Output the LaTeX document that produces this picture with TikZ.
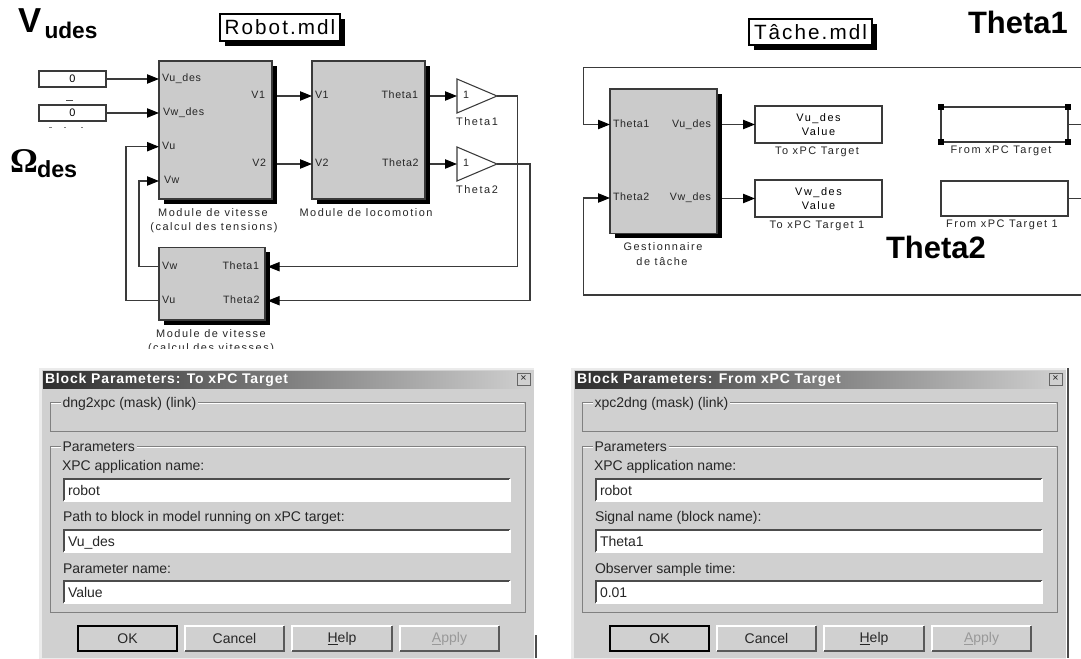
\documentclass[tikz,border=0pt]{standalone}
\usepackage{fontspec}
\setmainfont{Liberation Sans}
\newfontfamily\portf[LetterSpace=6]{Liberation Sans}
\newfontfamily\namef[LetterSpace=14]{Liberation Sans}
\newfontfamily\mdlf[LetterSpace=10]{Liberation Sans}
\newfontfamily\titlef[LetterSpace=6]{Liberation Sans}
\newfontfamily\omegaf{Liberation Serif}
\usetikzlibrary{arrows.meta}
\definecolor{blockgray}{HTML}{CBCBCB}
\definecolor{dlggray}{HTML}{D0D0D0}
\definecolor{wirec}{HTML}{3A3A3A}
\tikzset{
  box/.style={draw=wirec,line width=0.8pt,inner sep=0pt,outer sep=0pt,align=center,
    font=\namef\fontsize{8.2}{10.9}\selectfont},
  grayblock/.style={box,fill=blockgray},
  whiteblock/.style={box,fill=white},
  wire/.style={draw=wirec,line width=0.8pt},
  arrowwire/.style={wire,-{Triangle[length=9pt,width=7pt,black]}},
  fromshadow/.style={shorten <=3.75pt},
  intoshadow/.style={shorten >=2pt},
  port/.style={inner sep=0pt,outer sep=0pt,font=\portf\fontsize{8}{9}\selectfont,text height=5.5pt,text depth=1.5pt,text=black!85},
  namelabel/.style={inner sep=0pt,outer sep=0pt,font=\namef\fontsize{8.2}{9}\selectfont,text height=5.5pt,text depth=1.5pt,text=black!85},
  mdl/.style={box,fill=white,draw=black,font=\mdlf\fontsize{15.5}{17}\selectfont},
  bigbold/.style={inner sep=0pt,outer sep=0pt,font=\bfseries\fontsize{23.2}{24}\selectfont},
  dlgtext/.style={inner sep=0pt,outer sep=0pt,anchor=west,yshift=-1.5pt,font=\fontsize{10.5}{12}\selectfont,text height=7.5pt,text depth=2pt,text=black!85},
  edit/.style={inner sep=0pt,outer sep=0pt,fill=white},
  btn/.style={inner sep=0pt,outer sep=0pt,fill=dlggray,font=\fontsize{10.5}{12}\selectfont,text=black!85},
  handle/.style={fill=black,inner sep=0pt,outer sep=0pt,minimum size=4.2pt},
}
% optional style, name, x1, y1, x2, y2, text
\newcommand\bx[7][]{\node[#1,anchor=north west,minimum width={(#5-#3)*0.75pt},minimum height={(#6-#4)*0.75pt}] (#2) at (#3,#4) {#7};}
\newcommand\shad[4]{\fill[black] (#1+5,#2+5) rectangle (#3+5,#4+5);}
\newcommand\gainshape[3]{\draw[wire,fill=white] (#1,#2-17) -- (#1+40,#2) -- (#1,#2+17) -- cycle;
  \coordinate (#3in) at (#1,#2); \coordinate (#3out) at (#1+40,#2);
  \node[port,anchor=west] (#3one) at (#1+6,#2) {1};}
\newcommand\editbox[3]{%
  \bx[edit]{#1}{64}{#2}{510}{#3}{}
  \draw[black!70,line width=1.2pt] (64,#3) -- (64,#2) -- (510,#2);
  \draw[white,line width=0.8pt] (64,#3) -- (510,#3) -- (510,#2);}
\newcommand\button[5][black!65]{%
  \bx[btn]{#2}{#3}{626}{#4}{651}{#5}
  \draw[white,line width=1pt] (#3,651) -- (#3,626) -- (#4,626);
  \draw[#1,line width=1.2pt] (#3,651) -- (#4,651) -- (#4,626);}
\newcommand\groupframe[4]{\draw[black!50,line width=0.6pt] (50,#1) rectangle (525,#2);
  \draw[white,line width=0.4pt] (51,#1+1.2) -- (524,#1+1.2);
  \node[dlgtext,fill=dlggray,inner xsep=1.5pt] (#3) at (60.5,#1) {#4};}
% title, group, l1, v1, l2, v2, l3, v3
\newcommand\dlg[8]{%
  \fill[black!8] (39,368) rectangle (534,659);
  \fill[dlggray] (42,370) rectangle (534,658);
  \node[inner sep=0pt,outer sep=0pt,anchor=north west,minimum width={488*0.75pt},minimum height={17*0.75pt},left color=black!82,right color=dlggray] (bar) at (43,371) {};
  \node[inner sep=0pt,outer sep=0pt,anchor=west,text=white,font=\titlef\bfseries\fontsize{10.5}{12}\selectfont] (title) at (45,380) {#1};
  \bx[btn,draw=black!60,line width=0.5pt,font=\fontsize{8}{8}\selectfont]{close}{517}{373}{530}{385}{×}
  \groupframe{402}{431}{gone}{#2}
  \groupframe{446}{612}{gtwo}{Parameters}
  \node[dlgtext] (la) at (62,465) {#3};
  \editbox{ea}{479}{501}
  \node[dlgtext] (va) at (68,490) {#4};
  \node[dlgtext] (lb) at (63,516) {#5};
  \editbox{eb}{530}{552}
  \node[dlgtext] (vb) at (68,541) {#6};
  \node[dlgtext] (lc) at (63,568) {#7};
  \editbox{ec}{581}{603}
  \node[dlgtext] (vc) at (68,592) {#8};
  \button[black]{ok}{78}{177}{OK}{}
  \draw[black,line width=0.9pt] (78,626) rectangle (177,651);
  \button{cancel}{185}{284}{Cancel}{}
  \button{help}{292}{392}{\underline{H}elp}{}
  \button{apply}{400}{499}{\textcolor{black!40}{\underline{A}pply}}{}
}
\begin{document}
\begin{tikzpicture}[x=0.75pt,y=-0.75pt]
\useasboundingbox (0,0) rectangle (1081,659);
\fill[white] (0,0) rectangle (1081,659);

% ---- big annotations
\node[bigbold,anchor=base west,font=\bfseries\fontsize{26}{28}\selectfont] (vu) at (18,33) {V};
\node[bigbold,anchor=base west,font=\bfseries\fontsize{17}{18}\selectfont] (vus) at (44.5,39) {udes};
\node[bigbold,anchor=base west,font=\omegaf\bfseries\fontsize{26}{28}\selectfont] (om) at (10,173) {Ω};
\node[bigbold,anchor=base west,font=\bfseries\fontsize{17.5}{18}\selectfont] (oms) at (37,178) {des};
\node[bigbold,anchor=base west] (th1) at (968,34) {Theta1};
\node[bigbold,anchor=base west] (th2) at (886,259) {Theta2};

% ---- Robot.mdl
\shad{220}{14}{340}{41}
\bx[mdl]{robot}{220}{14}{340}{41}{Robot.mdl}
\bx[whiteblock]{c1}{39}{71}{106}{87}{0}
\bx[whiteblock]{c2}{39}{105}{106}{121}{0}
\draw[black!70,line width=0.6pt] (66,100) -- (73,100);
\draw[black!50,line width=0.6pt] (49,127) -- (52,127) (64,127) -- (66,127) (81,127) -- (83,127);

\shad{159}{61}{272}{199}
\bx[grayblock]{b1}{159}{61}{272}{199}{}
\shad{312}{61}{425}{199}
\bx[grayblock]{b2}{312}{61}{425}{199}{}
\shad{159}{247.5}{265}{320}
\bx[grayblock]{b3}{159}{247.5}{265}{320}{}

\node[port,anchor=west] (b1vud) at (162,79) {Vu\_des};
\node[port,anchor=west] (b1vwd) at (163,112.7) {Vw\_des};
\node[port,anchor=west] (b1vu) at (162,146.7) {Vu};
\node[port,anchor=west] (b1vw) at (164,181) {Vw};
\node[port,anchor=east] (b1v1) at (265,96) {V1};
\node[port,anchor=east] (b1v2) at (266,164) {V2};
\node[port,anchor=west] (b2v1) at (315,96) {V1};
\node[port,anchor=west] (b2v2) at (315,164) {V2};
\node[port,anchor=east] (b2t1) at (418,96) {Theta1};
\node[port,anchor=east] (b2t2) at (418.5,164) {Theta2};
\node[port,anchor=west] (b3vw) at (162,266.7) {Vw};
\node[port,anchor=west] (b3vu) at (162,300.7) {Vu};
\node[port,anchor=east] (b3t1) at (259,266.7) {Theta1};
\node[port,anchor=east] (b3t2) at (259.5,300.7) {Theta2};

\node[namelabel] (n1a) at (213,213.5) {Module de vitesse};
\node[namelabel] (n1b) at (214,228) {(calcul des tensions)};
\node[namelabel] (n2) at (366,213.5) {Module de locomotion};
\node[namelabel] (n3a) at (211,334.5) {Module de vitesse};
\begin{scope}
\clip (100,340) rectangle (320,348);
\node[namelabel] (n3b) at (211,348.5) {(calcul des vitesses)};
\end{scope}

\gainshape{457}{96}{ga}
\gainshape{457}{164}{gb}
\node[namelabel] (gal) at (477,122.5) {Theta1};
\node[namelabel] (gbl) at (477,190.5) {Theta2};

\coordinate (lf1) at (126,223);
\coordinate (lf2) at (139,223);
\coordinate (rt1) at (517.5,223);
\coordinate (rt2) at (530,223);

\draw[arrowwire] (c1.east) -- (b1.west |- c1.east);
\draw[arrowwire] (c2.east) -- (b1.west |- c2.east);
\draw[arrowwire,fromshadow] (b1.east |- b1v1) -- (b2.west |- b2v1);
\draw[arrowwire,fromshadow] (b1.east |- b1v2) -- (b2.west |- b2v2);
\draw[arrowwire,fromshadow] (b2.east |- b2t1) -- (gain);
\draw[arrowwire,fromshadow] (b2.east |- b2t2) -- (gbin);
\draw[arrowwire,intoshadow] (gaout) -- (rt1 |- gaout) -- (rt1 |- b3t1) -- (b3.east |- b3t1);
\draw[arrowwire,intoshadow] (gbout) -- (rt2 |- gbout) -- (rt2 |- b3t2) -- (b3.east |- b3t2);
\draw[arrowwire] (b3.west |- b3vw) -- (lf2 |- b3vw) -- (lf2 |- b1vw) -- (b1.west |- b1vw);
\draw[arrowwire] (b3.west |- b3vu) -- (lf1 |- b3vu) -- (lf1 |- b1vu) -- (b1.west |- b1vu);

% ---- Tache.mdl
\shad{749}{19}{872}{45}
\bx[mdl]{tache}{749}{19}{872}{45}{Tâche.mdl}
\shad{610}{89}{717}{233.5}
\bx[grayblock]{g}{610}{89}{717}{233.5}{}
\node[port,anchor=west] (gt1) at (613,124.5) {Theta1};
\node[port,anchor=west] (gt2) at (613,198) {Theta2};
\node[port,anchor=east] (gvu) at (711,124.5) {Vu\_des};
\node[port,anchor=east] (gvw) at (711,198) {Vw\_des};
\node[namelabel] (gl1) at (663,248) {Gestionnaire};
\node[namelabel] (gl2) at (662,262.5) {de tâche};

\bx[whiteblock]{to1}{755}{106}{882}{143}{Vu\_des\\Value}
\bx[whiteblock]{to2}{755}{180}{882}{217}{Vw\_des\\Value}
\node[namelabel] (to1l) at (817,152) {To xPC Target};
\node[namelabel] (to2l) at (817,226) {To xPC Target 1};
\bx[whiteblock]{fr1}{941}{107}{1068}{142}{}
\bx[whiteblock]{fr2}{941}{181}{1068}{216}{}
\node[namelabel] (fr1l) at (1001,151) {From xPC Target};
\node[namelabel] (fr2l) at (1002,225) {From xPC Target 1};
\node[handle] (h1) at (fr1.north west) {};
\node[handle] (h2) at (fr1.north east) {};
\node[handle] (h3) at (fr1.south west) {};
\node[handle] (h4) at (fr1.south east) {};

\coordinate (ledge) at (583.5,223);
\coordinate (topc) at (1081,67.5);
\coordinate (botc) at (1081,295);
\coordinate (cut1) at (1081,124.5);
\coordinate (cut2) at (1081,198.5);
\draw[arrowwire] (topc) -- (ledge |- topc) -- (ledge |- gt1) -- (g.west |- gt1);
\draw[arrowwire] (botc) -- (ledge |- botc) -- (ledge |- gt2) -- (g.west |- gt2);
\draw[arrowwire,fromshadow] (g.east |- to1.west) -- (to1.west);
\draw[arrowwire,fromshadow] (g.east |- to2.west) -- (to2.west);
\draw[wire] (fr1.east) -- (cut1);
\draw[wire] (fr2.east) -- (cut2);

% ---- dialogs
\begin{scope}[name prefix=l-]
\dlg{Block Parameters: To xPC Target}{dng2xpc (mask) (link)}{XPC application name:}{robot}{Path to block in model running on xPC target:}{Vu\_des}{Parameter name:}{Value}
\draw[black!70,line width=0.8pt] (536,635) -- (536,658);
\end{scope}
\begin{scope}[name prefix=r-,shift={(532,0)}]
\dlg{Block Parameters: From xPC Target}{xpc2dng (mask) (link)}{XPC application name:}{robot}{Signal name (block name):}{Theta1}{Observer sample time:}{0.01}
\draw[black!70,line width=0.9pt] (536,368) -- (536,658);
\end{scope}
\end{tikzpicture}
\end{document}
